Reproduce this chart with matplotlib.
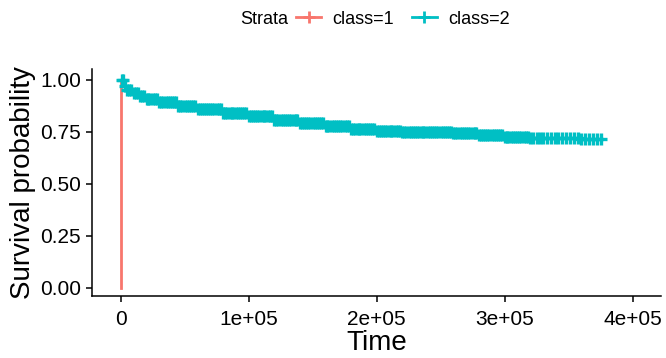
import numpy as np
import matplotlib
matplotlib.use("Agg")
import matplotlib.pyplot as plt
from matplotlib.lines import Line2D

plt.rcParams["font.family"] = ["Liberation Sans", "DejaVu Sans"]

RED = "#F8766D"
TEAL = "#00BFC4"

# class=1: everything fails at time 0
class1_time = [0, 0]
class1_surv = [1.0, 0.0]

# class=2: Kaplan-Meier steps
class2_time = [0, 2000, 5000, 10000, 15000, 20000, 30000, 45000, 60000, 80000,
               100000, 120000, 140000, 160000, 180000, 200000, 220000, 240000,
               260000, 280000, 300000, 320000, 340000, 360000, 376000]
class2_surv = [1.0, 0.972, 0.952, 0.935, 0.92, 0.908, 0.892, 0.874, 0.858, 0.84,
               0.824, 0.807, 0.792, 0.777, 0.764, 0.755, 0.75, 0.747, 0.742,
               0.735, 0.727, 0.72, 0.718, 0.716, 0.716]

# censored observations (class=2), one row per 10 000 time units
censor_times = [
    500, 1500, 3000, 5000, 6500, 8000,
    10000, 11500, 13000, 15000, 16500, 18000,
    20000, 21500, 23000, 25000, 26500, 28000,
    30000, 31500, 33000, 35000, 36500, 38000,
    40000, 41500, 43000, 45000, 46500, 48000,
    50000, 51500, 53000, 55000, 56500, 58000,
    60000, 61500, 63000, 65000, 66500, 68000,
    70000, 71500, 73000, 75000, 76500, 78000,
    80000, 81500, 83000, 85000, 86500, 88000,
    90000, 91500, 93000, 95000, 96500, 98000,
    100000, 101500, 103000, 105000, 106500, 108000,
    110000, 111500, 113000, 115000, 116500, 118000,
    120000, 121500, 123000, 125000, 126500, 128000,
    130000, 131500, 133000, 135000, 136500, 138000,
    140000, 141500, 143000, 145000, 146500, 148000,
    150000, 151500, 153000, 155000, 156500, 158000,
    160000, 161500, 163000, 165000, 166500, 168000,
    170000, 171500, 173000, 175000, 176500, 178000,
    180000, 181500, 183000, 185000, 186500, 188000,
    190000, 191500, 193000, 195000, 196500, 198000,
    200000, 201500, 203000, 205000, 206500, 208000,
    210000, 211500, 213000, 215000, 216500, 218000,
    220000, 221500, 223000, 225000, 226500, 228000,
    230000, 231500, 233000, 235000, 236500, 238000,
    240000, 241500, 243000, 245000, 246500, 248000,
    250000, 251500, 253000, 255000, 256500, 258000,
    260000, 261500, 263000, 265000, 266500, 268000,
    270000, 271500, 273000, 275000, 276500, 278000,
    280000, 281500, 283000, 285000, 286500, 288000,
    290000, 291500, 293000, 295000, 296500, 298000,
    300000, 301500, 303000, 305000, 306500, 308000,
    310000, 311500, 313000, 315000, 316500, 318000,
    320000, 322000, 325000, 328000,
    330000, 333000, 336000, 339000,
    342000, 345000, 348000,
    351000, 354000, 357000,
    360000, 363000, 366000, 369000,
    372000, 375000,
]

x_ticks = [0, 100000, 200000, 300000, 400000]
x_tick_labels = ["0", "1e+05", "2e+05", "3e+05", "4e+05"]
y_ticks = [0.0, 0.25, 0.5, 0.75, 1.0]
y_tick_labels = ["0.00", "0.25", "0.50", "0.75", "1.00"]


def main():
    fig = plt.figure(figsize=(6.66, 3.58), dpi=100)
    ax = fig.add_axes([0.138, 0.173, 0.854, 0.633])

    ax.plot(class1_time, class1_surv, color=RED, lw=2, drawstyle="steps-post")
    ax.plot(class2_time, class2_surv, color=TEAL, lw=2, drawstyle="steps-post")

    t = np.array(class2_time)
    s = np.array(class2_surv)
    idx = np.searchsorted(t, censor_times, side="right") - 1
    ax.plot(censor_times, s[idx], ls="none", marker="+", color=TEAL,
            markersize=8, markeredgewidth=2.4)

    ax.set_xlim(-22700, 422000)
    ax.set_ylim(-0.04, 1.05)
    ax.set_xticks(x_ticks)
    ax.set_xticklabels(x_tick_labels)
    ax.set_yticks(y_ticks)
    ax.set_yticklabels(y_tick_labels)

    for side in ["top", "right"]:
        ax.spines[side].set_visible(False)
    for side in ["left", "bottom"]:
        ax.spines[side].set_linewidth(1.1)
        ax.spines[side].set_color("black")

    ax.tick_params(axis="both", direction="out", length=4, width=1.1,
                   labelsize=15, colors="black")
    ax.tick_params(axis="x", pad=6)
    ax.tick_params(axis="y", pad=4)
    ax.set_xlabel("Time", fontsize=20, labelpad=1)
    ax.set_ylabel("Survival probability", fontsize=20, labelpad=3)

    fig.text(240 / 666, 1 - 19 / 358, "Strata", fontsize=13, va="center", ha="left")
    handles = [
        Line2D([], [], color=RED, lw=2, marker="+", markersize=9, markeredgewidth=2),
        Line2D([], [], color=TEAL, lw=2, marker="+", markersize=9, markeredgewidth=2),
    ]
    fig.legend(handles, ["class=1", "class=2"], ncol=2, frameon=False,
               loc="center left", bbox_to_anchor=(296 / 666, 1 - 19 / 358),
               fontsize=13, handlelength=1.4, handletextpad=0.6,
               columnspacing=1.0, borderaxespad=0, borderpad=0)

    fig.savefig("out.png", dpi=100)
    plt.close(fig)


if __name__ == "__main__":
    main()
